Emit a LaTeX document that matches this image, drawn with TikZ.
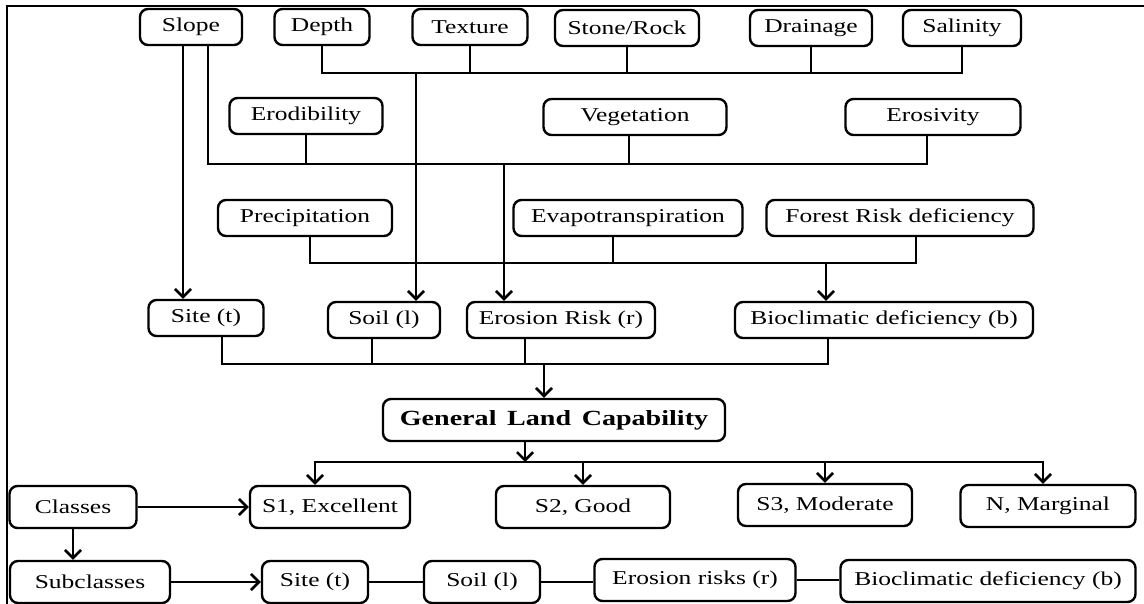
\documentclass[tikz,border=0pt]{standalone}
\usepackage{fontspec}
\setmainfont{Liberation Serif}[FakeStretch=1.3]
\usetikzlibrary{arrows.meta, positioning}

\begin{document}
\begin{tikzpicture}[
    x=0.5pt, y=-0.5pt,
    >={Straight Barb[length=4pt, width=8pt]},
    font=\fontsize{9.8}{11}\selectfont,
    line width=1.3pt,
    % Boxes
    box/.style   ={draw, rounded corners=4pt, align=center, line width=1.2pt,
                   inner sep=2pt, minimum height=18pt},
    tall/.style  ={box, minimum height=21pt},
    main/.style  ={box, minimum height=21pt, font=\fontsize{10.8}{13}\selectfont\bfseries},
    % Wires
    wire/.style  ={draw, line width=1.3pt},
    feed/.style  ={wire, ->}
]
\useasboundingbox (0,0) rectangle (1144,604);

% Frame (left and top edge only)
\draw[line width=1.4pt] (7,604) -- (7,6) -- (1144,6);

% --------------------------- Factors ---------------------------------
\node[box, minimum width=51pt]   (slope)   at (191,27)  {Slope};
\node[box, minimum width=47.5pt] (depth)   at (322,27)  {Depth};
\node[box, minimum width=57.5pt] (texture) at (470,27)  {Texture};
\node[box, minimum width=72pt]   (stone)   at (627,28)  {Stone/Rock};
\node[box, minimum width=61pt]   (drain)   at (811,28)  {Drainage};
\node[box, minimum width=59pt]   (salin)   at (962,28)  {Salinity};

\node[box, minimum width=76.5pt] (erod)    at (306,116) {Erodibility};
\node[box, minimum width=91.5pt] (veg)     at (635,117) {Vegetation};
\node[box, minimum width=87.5pt] (erosiv)  at (933,117) {Erosivity};

\node[box, minimum width=87pt]   (precip)  at (305,218) {Precipitation};
\node[box, minimum width=114.5pt](evap)    at (628,218) {Evapotranspiration};
\node[box, minimum width=133.5pt](forest)  at (900,218) {Forest Risk deficiency};

% --------------------------- Qualities -------------------------------
\node[box, minimum width=57.5pt] (site)    at (206,318) {Site (t)};
\node[box, minimum width=56pt]   (soil)    at (384,320) {Soil (l)};
\node[box, minimum width=94pt]   (eros)    at (561,320) {Erosion Risk (r)};
\node[box, minimum width=149pt]  (bio)     at (884,320) {Bioclimatic deficiency (b)};

\node[main, minimum width=171pt] (glc)     at (554,420) {General\, Land\, Capability};

% --------------------------- Classes ---------------------------------
\node[tall, minimum width=63.5pt](classes) at (73,507)  {Classes};
\node[tall, minimum width=80pt]  (sA)      at (330,507) {S1, Excellent};
\node[tall, minimum width=87pt]  (sB)      at (583,507) {S2, Good};
\node[tall, minimum width=87pt]  (sC)      at (825,505) {S3, Moderate};
\node[tall, minimum width=87.5pt](sN)      at (1048,506){N, Marginal};

\node[tall, minimum width=80pt]  (subcl)   at (90,582)  {Subclasses};
\node[tall, minimum width=53pt]  (site2)   at (315,582) {Site (t)};
\node[tall, minimum width=58pt]  (soil2)   at (482,582) {Soil (l)};
\node[tall, minimum width=100.5pt](eros2)  at (695,580) {Erosion risks (r)};
\node[tall, minimum width=147.5pt](bio2)   at (988,581) {Bioclimatic deficiency (b)};

% Bus junctions
\coordinate (busA) at (416,73);
\coordinate (busB) at (504,164);
\coordinate (busC) at (826,263);
\coordinate (busD) at (544,364);
\coordinate (busE) at (525,462);

% ======================== Wiring =====================================

% Slope straight to site
\draw[feed] ([xshift=-4pt]slope.south) -- ([xshift=-4pt]slope.south |- site.north);

% Soil group -> Soil (l)
\draw[wire] (depth.south) |- (busA) -| (salin.south);
\draw[wire] (texture.south) -- (texture.south |- busA);
\draw[wire] (stone.south) -- (stone.south |- busA);
\draw[wire] (drain.south) -- (drain.south |- busA);
\draw[feed] (busA) -- (busA |- soil.north);

% Erosion group -> Erosion Risk (r)
\draw[wire] ([xshift=8.5pt]slope.south) |- (busB) -| ([xshift=-3pt]erosiv.south);
\draw[wire] (erod.south) -- (erod.south |- busB);
\draw[wire] ([xshift=-3pt]veg.south) -- ([xshift=-3pt]veg.south |- busB);
\draw[feed] (busB) -- (busB |- eros.north);

% Climate group -> Bioclimatic deficiency (b)
\draw[wire] ([xshift=2.5pt]precip.south) |- (busC) -| ([xshift=8pt]forest.south);
\draw[wire] ([xshift=-7.5pt]evap.south) -- ([xshift=-7.5pt]evap.south |- busC);
\draw[feed] (busC) -- (busC |- bio.north);

% Qualities -> General Land Capability
\draw[wire] ([xshift=8pt]site.south) |- (busD) -| ([xshift=-28pt]bio.south);
\draw[wire] ([xshift=-6pt]soil.south) -- ([xshift=-6pt]soil.south |- busD);
\draw[wire] ([xshift=-18pt]eros.south) -- ([xshift=-18pt]eros.south |- busD);
\draw[feed] (busD) -- (busD |- glc.north);

% General Land Capability -> classes
\draw[feed] (glc.south -| busE) -- (busE);
\draw[feed] (busE) -| ([xshift=-7.5pt]sA.north);
\draw[feed] (busE) -| ([xshift=-2.5pt]sN.north);
\draw[feed] (busE -| sB.north) -- (sB.north);
\draw[feed] (busE -| sC.north) -- (sC.north);

% Classes and subclasses
\draw[feed] (classes.east) -- (sA.west);
\draw[feed] (classes.south) -- (classes.south |- subcl.north);
\draw[feed] (subcl.east) -- (site2.west);
\draw[wire] (site2.east) -- (soil2.west);
\draw[wire] (soil2.east) -- (soil2.east -| eros2.west);
\draw[wire] (eros2.east) -- (eros2.east -| bio2.west);

\end{tikzpicture}
\end{document}
